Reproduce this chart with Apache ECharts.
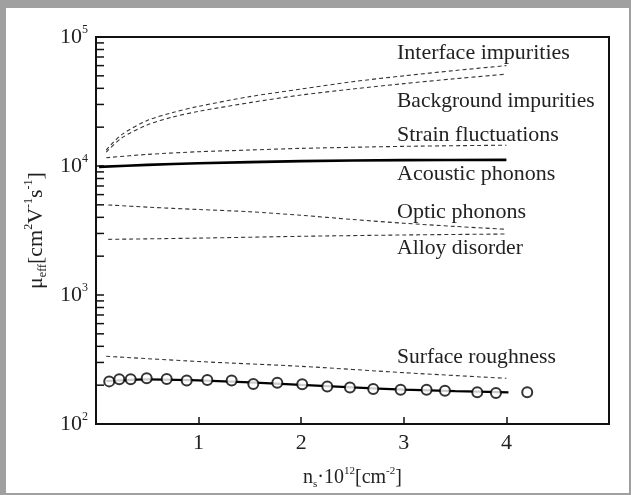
<!DOCTYPE html>
<html>
<head>
<meta charset="utf-8">
<script src="https://cdn.jsdelivr.net/npm/echarts@6/dist/echarts.min.js"></script>
<style>
html,body{margin:0;padding:0;background:#fff;}
#frame{position:absolute;left:0;top:0;width:631px;height:495px;box-sizing:border-box;
  border-top:8px solid #a0a0a0;border-left:6px solid #a0a0a0;border-right:2px solid #a0a0a0;border-bottom:2px solid #a0a0a0;}
#chart{position:absolute;left:0;top:0;width:631px;height:495px;}
</style>
</head>
<body>
<div id="frame"></div>
<div id="chart"></div>
<script>
// ---- data ----
const xTickLabels = ['', '1', '2', '3', '4', ''];
const yTickExponents = { 100: '2', 1000: '3', 10000: '4', 100000: '5' };

const interfaceImp = [[0.1,13300],[0.25,17500],[0.5,22500],[0.75,26000],[1,29000],[1.5,34500],[2,39500],[2.5,45000],[3,50000],[3.5,55000],[4,60000]];
const backgroundImp = [[0.1,12800],[0.25,16500],[0.5,20800],[0.75,24000],[1,26500],[1.5,31000],[2,35500],[2.5,39500],[3,43500],[3.5,47500],[4,51500]];
const strainFluct = [[0.1,11600],[0.5,12300],[1,12900],[1.5,13300],[2,13700],[3,14200],[4,14500]];
const acousticPh = [[0.03,9850],[0.5,10200],[1,10500],[2,10900],[3,11100],[4,11150]];
const opticPh = [[0.12,4990],[0.5,4800],[1,4600],[1.5,4420],[2,4150],[2.5,3850],[3,3600],[3.5,3400],[4,3230]];
const alloyDis = [[0.12,2700],[1,2760],[2,2850],[3,2920],[4,2970]];
const surfaceRough = [[0.1,335],[1,305],[2,280],[3,250],[4,226]];
const totalFit = [[0.1,215],[0.5,222],[1,218],[1.5,210],[2,201],[2.5,192],[3,185],[3.5,180],[4.02,176]];
const measured = [[0.129,214],[0.227,222],[0.338,222],[0.494,226],[0.689,223],[0.884,217],[1.085,219],[1.322,217],[1.533,204],[1.767,209],[2.01,203],[2.254,195],[2.475,192],[2.702,187],[2.969,184],[3.222,184],[3.401,181],[3.716,176],[3.898,174],[4.203,176]];
const minorTickValues = [200,300,400,500,600,700,800,900,2000,3000,4000,5000,6000,7000,8000,9000,20000,30000,40000,50000,60000,70000,80000,90000];

const curveLabels = [
  ['Interface impurities', 53, 22],
  ['Background impurities', 101, 21.5],
  ['Strain fluctuations', 135, 22],
  ['Acoustic phonons', 174, 22],
  ['Optic phonons', 212, 22],
  ['Alloy disorder', 248, 21.7],
  ['Surface roughness', 357, 21.6]
];

const FONT = '"Liberation Serif", "DejaVu Serif", serif';
const chart = echarts.init(document.getElementById('chart'), null, {renderer: 'canvas'});

const dashStyle = {color: '#333', width: 1.1, type: [4, 3]};
function dashed(data) {
  return {type: 'line', data: data, showSymbol: false, smooth: 0.3, lineStyle: dashStyle, silent: true, z: 2};
}

const option = {
  animation: false,
  backgroundColor: 'transparent',
  grid: {left: 96, top: 37, right: 22, bottom: 71, show: true, borderColor: '#111', borderWidth: 2, backgroundColor: 'transparent'},
  xAxis: {
    type: 'value', min: 0, max: 5, interval: 1,
    name: '{t|n}{sub|s}{t|·10}{sup|12}{t|[cm}{sup|-2}{t|]}',
    nameLocation: 'middle', nameGap: 42,
    nameTextStyle: {rich: {
      t: {fontFamily: FONT, fontSize: 20, color: '#222', lineHeight: 24, verticalAlign: 'middle'},
      sub: {fontFamily: FONT, fontSize: 11, color: '#222', lineHeight: 24, verticalAlign: 'bottom'},
      sup: {fontFamily: FONT, fontSize: 11, color: '#222', lineHeight: 14, verticalAlign: 'top'}
    }},
    axisLine: {show: true, lineStyle: {color: '#111', width: 2}},
    axisTick: {show: true, inside: true, length: 7, lineStyle: {color: '#111', width: 1.5}},
    splitLine: {show: false},
    axisLabel: {fontFamily: FONT, fontSize: 22, color: '#222', margin: 8,
      formatter: function (v) { return xTickLabels[Math.round(v)] || ''; }}
  },
  yAxis: {
    type: 'log', logBase: 10, min: 100, max: 100000, splitNumber: 3,
    name: '{t|μ}{sub|eff}{t|[cm}{sup|2}{t|V}{sup|-1}{t|s}{sup|-1}{t|]}',
    nameLocation: 'middle', nameGap: 40, nameRotate: 90,
    nameTextStyle: {rich: {
      t: {fontFamily: FONT, fontSize: 22, color: '#222', lineHeight: 26, verticalAlign: 'middle'},
      sub: {fontFamily: FONT, fontSize: 12, color: '#222', lineHeight: 26, verticalAlign: 'bottom'},
      sup: {fontFamily: FONT, fontSize: 12, color: '#222', lineHeight: 15, verticalAlign: 'top'}
    }},
    axisLine: {show: true, lineStyle: {color: '#111', width: 2}},
    axisTick: {show: true, inside: true, length: 8, lineStyle: {color: '#111', width: 1.5}},
    splitLine: {show: false},
    axisLabel: {margin: 8,
      formatter: function (v) { const e = yTickExponents[Math.round(v)]; return e ? '{b|10}{s|' + e + '}' : ''; },
      rich: {
        b: {fontFamily: FONT, fontSize: 22, color: '#222', lineHeight: 26, verticalAlign: 'middle'},
        s: {fontFamily: FONT, fontSize: 12, color: '#222', lineHeight: 14, verticalAlign: 'top'}
      }
    }
  },
  graphic: curveLabels.map(function (l) {
    return {type: 'text', x: 397, y: l[1], silent: true,
      style: {text: l[0], font: l[2] + 'px ' + FONT, fill: '#222', verticalAlign: 'middle'}};
  }),
  series: [
    {type: 'custom', silent: true, clip: false, z: 5,
      data: minorTickValues.map(function (v) { return [0, v]; }),
      renderItem: function (params, api) {
        const p = api.coord([0, api.value(1)]);
        return {type: 'line', shape: {x1: p[0], y1: p[1], x2: p[0] + 8, y2: p[1]},
          style: {stroke: '#111', lineWidth: 1.5}};
      }},
    dashed(interfaceImp),
    dashed(backgroundImp),
    dashed(strainFluct),
    {type: 'line', data: acousticPh, showSymbol: false, smooth: 0.3, lineStyle: {color: '#000', width: 2.6}, silent: true, z: 3},
    dashed(opticPh),
    dashed(alloyDis),
    dashed(surfaceRough),
    {type: 'line', data: totalFit, showSymbol: false, smooth: 0.3, lineStyle: {color: '#000', width: 2.2}, silent: true, z: 3},
    {type: 'scatter', data: measured, symbol: 'circle', symbolSize: 10, silent: true, z: 4,
      itemStyle: {color: '#fff', borderColor: '#000', borderWidth: 2}}
  ]
};
chart.setOption(option);
</script>
</body>
</html>
